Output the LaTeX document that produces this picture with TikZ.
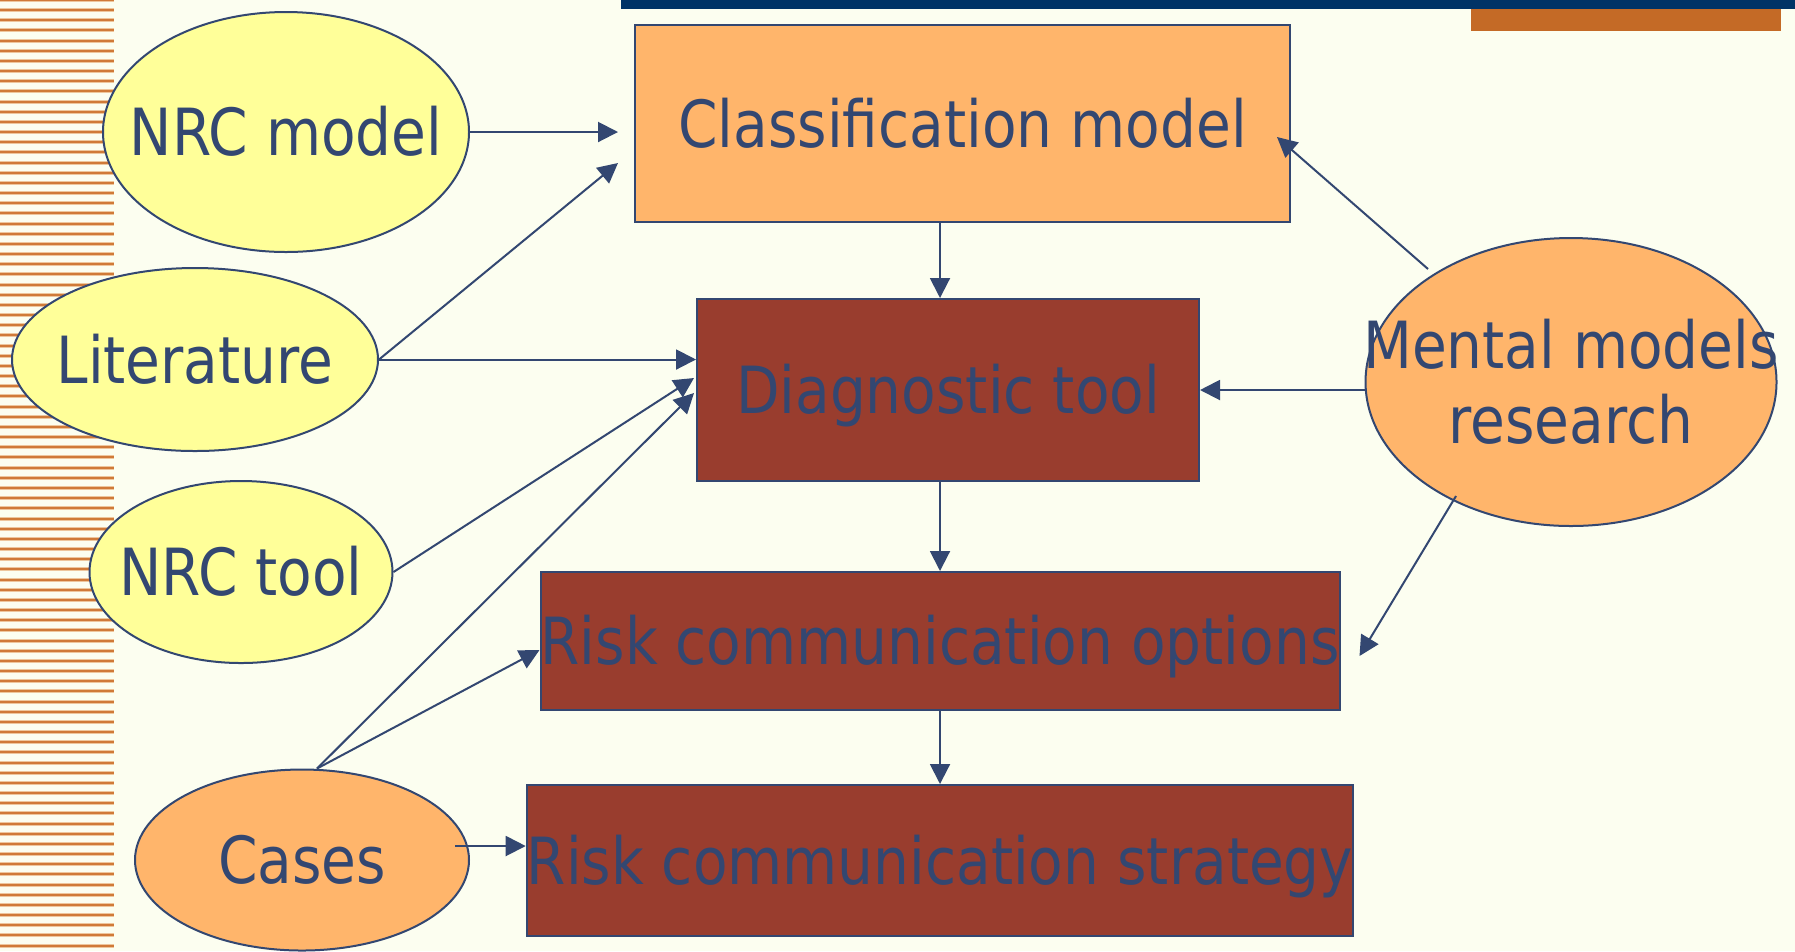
\documentclass[tikz,border=0pt]{standalone}
\usepackage{fontspec}
\usetikzlibrary{shapes.geometric,arrows.meta,calc}
\newfontfamily\diagfont[FakeStretch=0.87]{DejaVu Sans}
\definecolor{bg}{HTML}{FCFEF0}
\definecolor{navy}{HTML}{334771}
\definecolor{yel}{HTML}{FFFF99}
\definecolor{org}{HTML}{FFB56B}
\definecolor{brick}{HTML}{993D2E}
\definecolor{topbar}{HTML}{003366}
\definecolor{orgbar}{HTML}{C46A26}
\definecolor{stripeL}{HTML}{EEC69C}
\definecolor{stripeD}{HTML}{D07A38}
\tikzset{
  lbl/.style={font={\diagfont\fontsize{18.5}{21.4}\selectfont}, text=navy, inner sep=0pt},
  ell/.style={ellipse, draw=navy, line width=0.2mm, inner sep=0pt},
  boxn/.style={rectangle, draw=navy, line width=0.2mm, inner sep=0pt, lbl},
  oneline/.style={text height=13.4pt, text depth=0pt},
  arr/.style={draw=navy, line width=0.2mm, -{Triangle[length=2mm,width=2mm]}}
}
\begin{document}
\begin{tikzpicture}[x=0.1mm,y=-0.1mm]
\fill[bg] (0,0) rectangle (1795,951);
\useasboundingbox (0,0) rectangle (1795,951);
% left stripes
\foreach \k in {0,...,94}{
  \draw[stripeL, line width=0.4mm] (0,{-0.17+10.17*\k}) -- (114,{-0.17+10.17*\k});
  \draw[stripeD, line width=0.2mm] (0,{-0.17+10.17*\k}) -- (114,{-0.17+10.17*\k});
}
% top bars
\fill[topbar] (621,0) rectangle (1795,9);
\fill[orgbar] (1471,9) rectangle (1781,31);
% ellipses
\node[ell, fill=yel, minimum width=36.6mm, minimum height=24.0mm] (nrcm) at (286,132) {};
\node[ell, fill=yel, minimum width=36.6mm, minimum height=18.3mm] (lit) at (195,359.5) {};
\node[ell, fill=yel, minimum width=30.3mm, minimum height=18.2mm] (nrct) at (241,572) {};
\node[ell, fill=org, minimum width=33.4mm, minimum height=18.1mm] (cases) at (302,860) {};
\node[ell, fill=org, minimum width=41.1mm, minimum height=28.8mm] (mental) at (1571,382) {};
\node[lbl, oneline] (nrcm-t) at (nrcm.center) {NRC model};
\node[lbl, oneline] (lit-t) at (lit.center) {Literature};
\node[lbl, oneline] (nrct-t) at (nrct.center) {NRC tool};
\node[lbl, oneline] (cases-t) at (cases.center) {Cases};
\node[lbl, align=center] (mental-t) at (mental.center) {Mental models\\research};
% boxes
\node[boxn, fill=org, minimum width=65.5mm, minimum height=19.7mm, oneline] (cls) at (962.5,123.5) {Classification model};
\node[boxn, fill=brick, minimum width=50.2mm, minimum height=18.2mm, oneline] (diag) at (948,390) {Diagnostic tool};
\node[boxn, fill=brick, minimum width=79.0mm, minimum height=13.8mm, oneline] (opt) at (940,641) {Risk communication options};
\node[boxn, fill=brick, minimum width=82.2mm, minimum height=15.1mm, oneline] (strat) at (940,860.5) {Risk communication strategy};
\coordinate (cstart) at ($(cases.north)+(15,0)$);
% connectors
\draw[arr] (nrcm.east) -- ($(nrcm.east -| cls.west)+(-16,0)$);
\draw[arr] (lit.east) -- ($(cls.west)+(-16,39.5)$);
\draw[arr] (lit.east) -- (lit.east -| diag.west);
\draw[arr] (nrct.east) -- ($(diag.west)+(-2,-12)$);
\draw[arr] (cstart) -- ($(diag.west)+(-2,3)$);
\draw[arr] (cstart) -- ($(opt.west)+(0,9)$);
\draw[arr] ($(cases.east)+(-15,-14)$) -- ($(cases.east -| strat.west)+(0,-14)$);
\draw[arr] (cls.south -| opt.north) -- (diag.north -| opt.north);
\draw[arr] (diag.south -| opt.north) -- (opt.north);
\draw[arr] (opt.south) -- (strat.north);
\draw[arr] ($(mental.west)+(0,8)$) -- ($(mental.west -| diag.east)+(0,8)$);
\draw[arr] ($(mental.center)+(-143,-113)$) -- ($(cls.east)+(-14,13.5)$);
\draw[arr] ($(mental.center)+(-115,114)$) -- ($(opt.east)+(19,15)$);
\end{tikzpicture}
\end{document}
